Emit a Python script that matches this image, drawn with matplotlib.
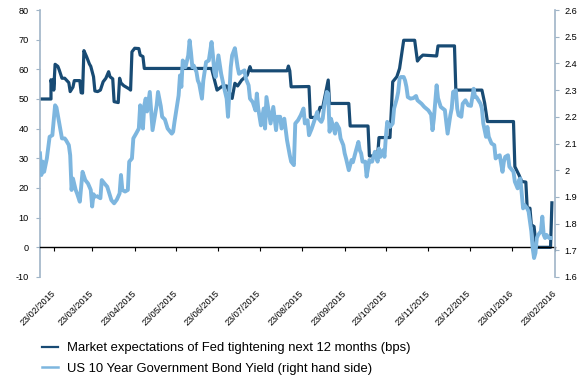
import numpy as np
import pandas as pd
import matplotlib
matplotlib.use('Agg')
import matplotlib.pyplot as plt
from matplotlib.lines import Line2D
from matplotlib.ticker import FormatStrFormatter

# Fed tightening expectations, next 12 months (bps) - left axis
fed_dates = ['2015-02-14', '2015-02-21', '2015-02-21', '2015-02-22', '2015-02-23', '2015-02-23', '2015-02-24', '2015-02-26',
             '2015-02-27', '2015-03-01', '2015-03-03', '2015-03-06', '2015-03-07', '2015-03-09', '2015-03-10', '2015-03-14',
             '2015-03-15', '2015-03-16', '2015-03-17', '2015-03-19', '2015-03-21', '2015-03-22', '2015-03-24', '2015-03-25',
             '2015-03-27', '2015-03-29', '2015-03-31', '2015-04-02', '2015-04-04', '2015-04-05', '2015-04-07', '2015-04-08',
             '2015-04-11', '2015-04-12', '2015-04-13', '2015-04-15', '2015-04-19', '2015-04-20', '2015-04-21', '2015-04-23',
             '2015-04-26', '2015-04-27', '2015-04-29', '2015-04-30', '2015-06-18', '2015-06-22', '2015-06-26', '2015-06-29',
             '2015-07-03', '2015-07-05', '2015-07-07', '2015-07-10', '2015-07-14', '2015-07-16', '2015-07-17', '2015-08-12',
             '2015-08-13', '2015-08-14', '2015-08-15', '2015-08-28', '2015-08-29', '2015-09-03', '2015-09-05', '2015-09-07',
             '2015-09-11', '2015-09-12', '2015-09-26', '2015-09-27', '2015-10-10', '2015-10-11', '2015-10-17', '2015-10-18',
             '2015-10-26', '2015-10-27', '2015-10-28', '2015-10-31', '2015-11-02', '2015-11-05', '2015-11-13', '2015-11-15',
             '2015-11-17', '2015-11-19', '2015-11-29', '2015-11-30', '2015-12-12', '2015-12-13', '2016-01-01', '2016-01-03',
             '2016-01-05', '2016-01-24', '2016-01-25', '2016-01-28', '2016-01-30', '2016-02-02', '2016-02-03', '2016-02-05',
             '2016-02-06', '2016-02-08', '2016-02-09', '2016-02-10', '2016-02-20', '2016-02-21']
fed_bps = [50.0, 50.0, 56.5, 54.0, 56.7, 53.0, 61.7, 61.0,
           59.8, 57.0, 57.0, 55.5, 52.5, 54.0, 56.2, 56.2,
           52.1, 52.0, 66.3, 64.2, 61.8, 61.0, 57.5, 52.7,
           52.5, 53.0, 55.8, 57.0, 59.2, 57.5, 56.8, 49.1,
           48.8, 57.0, 55.4, 54.5, 53.4, 53.0, 65.9, 67.1,
           67.0, 64.8, 64.3, 60.3, 60.3, 53.0, 54.4, 54.4,
           50.2, 55.3, 54.4, 56.4, 58.0, 60.9, 59.5, 59.5,
           61.1, 59.5, 54.1, 54.2, 43.8, 43.8, 47.2, 47.2,
           56.4, 48.5, 48.5, 40.9, 40.9, 30.8, 30.8, 37.0,
           37.0, 46.3, 55.8, 57.5, 60.3, 69.8, 69.8, 62.8,
           64.0, 64.8, 64.5, 67.9, 67.9, 53.0, 53.0, 48.6,
           42.4, 42.4, 27.2, 24.4, 22.2, 22.0, 13.2, 13.2,
           7.6, 7.0, 2.5, 0.0, 0.0, 15.0]

# US 10 year yield (%) - right axis
yld_dates = ['2015-02-13', '2015-02-14', '2015-02-15', '2015-02-16', '2015-02-18', '2015-02-20', '2015-02-22', '2015-02-24',
             '2015-02-25', '2015-02-26', '2015-02-27', '2015-03-01', '2015-03-03', '2015-03-04', '2015-03-06', '2015-03-07',
             '2015-03-08', '2015-03-09', '2015-03-11', '2015-03-12', '2015-03-14', '2015-03-16', '2015-03-18', '2015-03-20',
             '2015-03-22', '2015-03-23', '2015-03-24', '2015-03-25', '2015-03-26', '2015-03-27', '2015-03-29', '2015-03-30',
             '2015-04-01', '2015-04-03', '2015-04-05', '2015-04-06', '2015-04-08', '2015-04-10', '2015-04-12', '2015-04-13',
             '2015-04-14', '2015-04-16', '2015-04-18', '2015-04-19', '2015-04-21', '2015-04-22', '2015-04-24', '2015-04-26',
             '2015-04-27', '2015-04-28', '2015-04-29', '2015-04-30', '2015-05-01', '2015-05-02', '2015-05-04', '2015-05-05',
             '2015-05-06', '2015-05-09', '2015-05-10', '2015-05-12', '2015-05-13', '2015-05-15', '2015-05-17', '2015-05-20',
             '2015-05-21', '2015-05-22', '2015-05-25', '2015-05-26', '2015-05-27', '2015-05-28', '2015-05-29', '2015-05-30',
             '2015-06-01', '2015-06-02', '2015-06-03', '2015-06-04', '2015-06-05', '2015-06-07', '2015-06-08', '2015-06-09',
             '2015-06-11', '2015-06-12', '2015-06-14', '2015-06-16', '2015-06-18', '2015-06-19', '2015-06-20', '2015-06-21',
             '2015-06-23', '2015-06-25', '2015-06-27', '2015-06-29', '2015-06-30', '2015-07-02', '2015-07-03', '2015-07-05',
             '2015-07-07', '2015-07-08', '2015-07-10', '2015-07-12', '2015-07-13', '2015-07-15', '2015-07-16', '2015-07-18',
             '2015-07-20', '2015-07-21', '2015-07-22', '2015-07-24', '2015-07-26', '2015-07-27', '2015-07-28', '2015-07-31',
             '2015-08-02', '2015-08-04', '2015-08-05', '2015-08-07', '2015-08-08', '2015-08-10', '2015-08-12', '2015-08-14',
             '2015-08-15', '2015-08-17', '2015-08-18', '2015-08-20', '2015-08-22', '2015-08-24', '2015-08-25', '2015-08-27',
             '2015-08-28', '2015-08-30', '2015-09-01', '2015-09-03', '2015-09-04', '2015-09-06', '2015-09-07', '2015-09-08',
             '2015-09-10', '2015-09-11', '2015-09-12', '2015-09-13', '2015-09-14', '2015-09-15', '2015-09-16', '2015-09-17',
             '2015-09-19', '2015-09-20', '2015-09-22', '2015-09-23', '2015-09-24', '2015-09-26', '2015-09-28', '2015-09-29',
             '2015-10-01', '2015-10-03', '2015-10-04', '2015-10-05', '2015-10-06', '2015-10-08', '2015-10-09', '2015-10-11',
             '2015-10-12', '2015-10-13', '2015-10-15', '2015-10-17', '2015-10-18', '2015-10-19', '2015-10-21', '2015-10-22',
             '2015-10-23', '2015-10-24', '2015-10-26', '2015-10-28', '2015-10-29', '2015-10-31', '2015-11-01', '2015-11-02',
             '2015-11-03', '2015-11-05', '2015-11-06', '2015-11-07', '2015-11-08', '2015-11-10', '2015-11-12', '2015-11-14',
             '2015-11-15', '2015-11-18', '2015-11-20', '2015-11-23', '2015-11-25', '2015-11-26', '2015-11-27', '2015-11-29',
             '2015-11-30', '2015-12-02', '2015-12-05', '2015-12-07', '2015-12-09', '2015-12-10', '2015-12-11', '2015-12-13',
             '2015-12-14', '2015-12-15', '2015-12-17', '2015-12-18', '2015-12-20', '2015-12-22', '2015-12-24', '2015-12-26',
             '2015-12-27', '2015-12-28', '2015-12-31', '2016-01-01', '2016-01-02', '2016-01-04', '2016-01-05', '2016-01-06',
             '2016-01-08', '2016-01-10', '2016-01-11', '2016-01-12', '2016-01-14', '2016-01-16', '2016-01-17', '2016-01-18',
             '2016-01-20', '2016-01-21', '2016-01-24', '2016-01-25', '2016-01-27', '2016-01-28', '2016-01-29', '2016-01-31',
             '2016-02-01', '2016-02-03', '2016-02-04', '2016-02-05', '2016-02-06', '2016-02-07', '2016-02-08', '2016-02-09',
             '2016-02-10', '2016-02-11', '2016-02-13', '2016-02-14', '2016-02-15', '2016-02-16', '2016-02-17', '2016-02-19',
             '2016-02-20']
yld_pct = [2.063, 1.982, 2.032, 1.994, 2.044, 2.125, 2.131, 2.243,
           2.235, 2.206, 2.175, 2.119, 2.119, 2.112, 2.094, 2.056,
           1.926, 1.969, 1.926, 1.913, 1.882, 1.994, 1.963, 1.950,
           1.926, 1.864, 1.910, 1.901, np.nan, 1.901, 1.895, 1.963,
           1.950, 1.938, 1.905, 1.888, 1.876, 1.890, 1.913, 1.982,
           1.926, 1.920, 1.926, 2.032, 2.044, 2.119, 2.137, 2.156,
           2.243, 2.206, 2.156, 2.243, 2.268, 2.220, 2.293, 2.220,
           2.150, 2.243, 2.293, 2.240, 2.200, 2.190, 2.156, 2.137,
           2.144, 2.181, 2.280, 2.355, 2.312, 2.411, 2.399, 2.386,
           2.430, 2.486, 2.442, 2.386, 2.392, 2.368, 2.336, 2.324,
           2.268, 2.336, 2.405, 2.411, 2.480, 2.430, 2.368, 2.349,
           2.430, 2.361, 2.312, 2.268, 2.200, 2.386, 2.430, 2.457,
           2.386, 2.361, 2.368, 2.374, 2.343, 2.318, 2.268, 2.255,
           2.224, 2.287, 2.231, 2.168, 2.231, 2.156, 2.274, 2.175,
           2.237, 2.150, 2.200, 2.200, 2.156, 2.193, 2.112, 2.056,
           2.032, 2.019, 2.175, 2.187, 2.206, 2.231, 2.175, 2.187,
           2.131, 2.156, 2.187, 2.218, 2.193, 2.181, 2.193, 2.237,
           2.293, 2.287, 2.144, 2.193, 2.175, 2.156, 2.137, 2.175,
           2.156, 2.119, 2.094, 2.063, 2.044, 2.000, 2.038, 2.030,
           2.069, 2.106, 2.075, 2.063, 2.032, 2.032, 1.976, 2.038,
           2.032, 2.032, 2.069, 2.032, 2.081, 2.050, 2.075, 2.050,
           2.125, 2.181, 2.162, 2.175, 2.231, 2.268, 2.293, 2.343,
           2.349, 2.349, 2.336, 2.312, 2.274, 2.268, 2.270, 2.278,
           2.262, 2.249, 2.237, 2.224, 2.208, 2.150, 2.193, 2.318,
           2.270, 2.237, 2.225, 2.137, 2.206, 2.231, 2.293, 2.299,
           2.231, 2.206, 2.200, 2.249, 2.262, 2.243, 2.241, 2.305,
           2.274, 2.274, 2.249, 2.231, 2.175, 2.125, 2.162, 2.125,
           2.100, 2.094, 2.044, 2.050, 2.056, 1.994, 2.032, 2.050,
           2.056, 2.013, 1.994, 1.957, 1.932, 1.963, 1.969, 1.857,
           1.870, 1.857, 1.845, 1.808, 1.771, 1.708, 1.671, 1.690,
           1.746, 1.758, 1.771, 1.826, 1.758, 1.746, 1.758, 1.746,
           1.746]

fed_label = 'Market expectations of Fed tightening next 12 months (bps)'
yld_label = 'US 10 Year Government Bond Yield (right hand side)'

left_ticks = [-10, 0, 10, 20, 30, 40, 50, 60, 70, 80]
right_ticks = [1.6, 1.7, 1.8, 1.9, 2.0, 2.1, 2.2, 2.3, 2.4, 2.5, 2.6]
month_ticks = pd.date_range('2015-02-23', '2016-02-23', freq=pd.DateOffset(months=1))

DARK = '#184b74'
LIGHT = '#7db6df'
AXIS_GREY = '#9fb4c7'

plt.rcParams['font.family'] = ['Liberation Sans', 'DejaVu Sans']
plt.rcParams['axes.unicode_minus'] = False

fig = plt.figure(figsize=(5.88, 3.79), dpi=100)
ax = fig.add_axes([40 / 588, 1 - 277 / 379, 515 / 588, 267 / 379])
ax2 = ax.twinx()

ax.plot(pd.to_datetime(fed_dates), fed_bps, color=DARK, lw=2.3)
ax2.plot(pd.to_datetime(yld_dates), yld_pct, color=LIGHT, lw=2.8)

ax.set_xlim(pd.Timestamp('2015-02-13'), pd.Timestamp('2016-02-23 06:00'))
ax.set_ylim(-10, 80)
ax.set_yticks(left_ticks)
ax.yaxis.set_major_formatter(FormatStrFormatter('%g'))
ax2.set_ylim(1.6, 2.6)
ax2.set_yticks(right_ticks)
ax2.yaxis.set_major_formatter(FormatStrFormatter('%g'))

# x axis sits on the zero line, labels pushed down below the plot
ax.spines['bottom'].set_position(('data', 0))
ax.spines['bottom'].set_color('black')
ax.spines['bottom'].set_linewidth(1.0)
ax.spines['top'].set_visible(False)
ax.spines['right'].set_visible(False)
ax.spines['left'].set_color(AXIS_GREY)
ax.spines['left'].set_linewidth(1.2)
for s in ['top', 'bottom', 'left']:
    ax2.spines[s].set_visible(False)
ax2.spines['right'].set_color(AXIS_GREY)
ax2.spines['right'].set_linewidth(1.2)

ax.set_xticks(month_ticks)
ax.set_xticklabels([d.strftime('%d/%m/%Y') for d in month_ticks])
ax.tick_params(axis='x', direction='out', length=3, width=0.8, color='black',
               pad=29, labelsize=6.6)
for lab in ax.get_xticklabels():
    lab.set_rotation(45)
    lab.set_ha('right')
    lab.set_va('center')
    lab.set_rotation_mode('anchor')

ax.tick_params(axis='y', direction='out', length=3, width=0.8, color=AXIS_GREY,
               pad=5, labelsize=6.6)
ax2.tick_params(axis='y', direction='out', length=3, width=0.8, color=AXIS_GREY,
                pad=4, labelsize=6.6)

# legend keys are thinner than the plotted lines
handles = [Line2D([], [], color=DARK, lw=1.6), Line2D([], [], color=LIGHT, lw=1.8)]
fig.legend(handles, [fed_label, yld_label], loc='upper left',
           bbox_to_anchor=(42 / 588, 1 - 342 / 379), frameon=False, fontsize=9.4,
           handlelength=1.25, handletextpad=0.65, labelspacing=0.65,
           borderpad=0, borderaxespad=0)

fig.savefig('out.png', dpi=100)
